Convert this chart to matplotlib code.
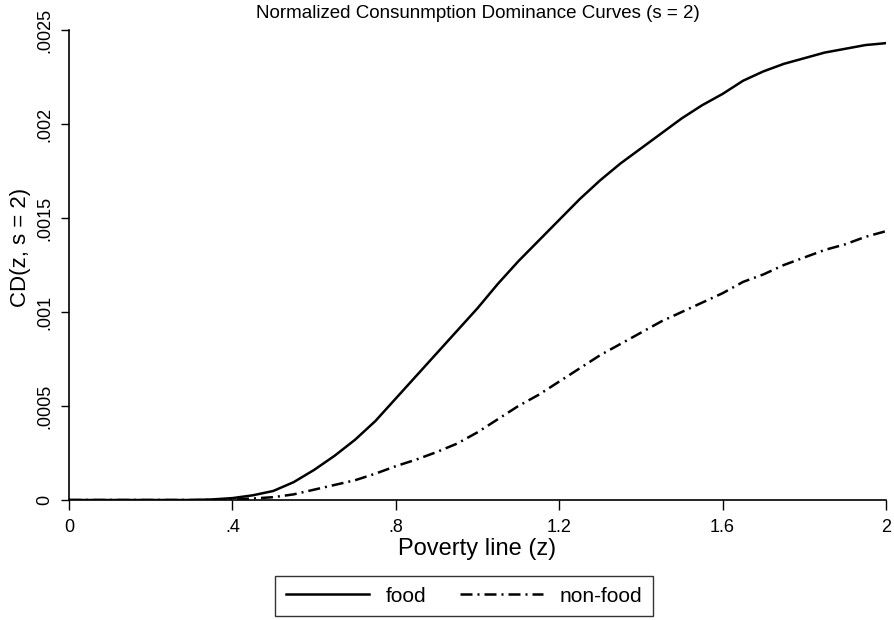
import numpy as np
import matplotlib
matplotlib.use("Agg")
import matplotlib.pyplot as plt
from matplotlib.ticker import FixedLocator

plt.rcParams["font.family"] = ["Liberation Sans", "DejaVu Sans"]

# poverty line grid and dominance curve values
z = [0.0, 0.05, 0.1, 0.15, 0.2, 0.25, 0.3, 0.35, 0.4, 0.45, 0.5, 0.55, 0.6, 0.65,
     0.7, 0.75, 0.8, 0.85, 0.9, 0.95, 1.0, 1.05, 1.1, 1.15, 1.2, 1.25, 1.3, 1.35,
     1.4, 1.45, 1.5, 1.55, 1.6, 1.65, 1.7, 1.75, 1.8, 1.85, 1.9, 1.95, 2.0]
food = [0, 0, 0, 0, 0, 0, 0, 0.000003, 0.00001, 0.000025, 0.000048, 0.000095,
        0.00016, 0.000235, 0.00032, 0.00042, 0.00054, 0.00066, 0.00078, 0.0009,
        0.00102, 0.00115, 0.00127, 0.00138, 0.00149, 0.0016, 0.0017, 0.00179,
        0.00187, 0.00195, 0.00203, 0.0021, 0.00216, 0.00223, 0.00228, 0.00232,
        0.00235, 0.00238, 0.0024, 0.00242, 0.00243]
nonfood = [0, 0, 0, 0, 0, 0, 0, 0, 0.000003, 0.000008, 0.000015, 0.00003,
           0.000055, 0.00008, 0.000105, 0.00014, 0.00018, 0.000215, 0.000255,
           0.0003, 0.00036, 0.00043, 0.0005, 0.00056, 0.00063, 0.0007, 0.00077,
           0.00083, 0.00089, 0.00095, 0.001, 0.00105, 0.0011, 0.00116, 0.0012,
           0.00125, 0.00129, 0.00133, 0.00136, 0.0014, 0.00143]

xticks = [0, 0.4, 0.8, 1.2, 1.6, 2.0]
xticklabels = ["0", ".4", ".8", "1.2", "1.6", "2"]
yticks = [0, 0.0005, 0.001, 0.0015, 0.002, 0.0025]
yticklabels = ["0", ".0005", ".001", ".0015", ".002", ".0025"]

fig = plt.figure(figsize=(8.94, 6.2), dpi=100)
ax = fig.add_axes([69 / 894, 1 - 500 / 620, (886 - 69) / 894, 470 / 620])

l1, = ax.plot(z, food, color="black", lw=1.8, label="food")
l2, = ax.plot(z, nonfood, color="black", lw=1.8, linestyle=(0, (4.8, 2, 0.8, 2)),
              label="non-food")

ax.set_xlim(0, 2)
ax.set_ylim(0, 0.0025)
ax.xaxis.set_major_locator(FixedLocator(xticks))
ax.set_xticklabels(xticklabels)
ax.yaxis.set_major_locator(FixedLocator(yticks))
ax.set_yticklabels(yticklabels, rotation=90, va="center")
ax.tick_params(axis="x", direction="out", length=7, width=1, labelsize=13, pad=7)
ax.tick_params(axis="y", direction="out", length=6, width=1, labelsize=13, pad=5)
ax.spines["top"].set_visible(False)
ax.spines["right"].set_visible(False)
for s in ["left", "bottom"]:
    ax.spines[s].set_linewidth(1.2)

ax.set_xlabel("Poverty line (z)", fontsize=17, labelpad=1)
fig.text(21 / 894, 1 - 247 / 620, "CD(z, s = 2)", rotation=90, fontsize=16,
         ha="center", va="center")
fig.text(478 / 894, 1 - 14 / 620, "Normalized Consunmption Dominance Curves (s = 2)",
         fontsize=13.5, ha="center", va="center")

leg = fig.legend(handles=[l1, l2], loc="center", bbox_to_anchor=(464 / 894, 1 - 596 / 620),
                 ncol=2, fontsize=15, frameon=True, fancybox=False, handlelength=4,
                 columnspacing=1.6, borderpad=0.5)
leg.get_frame().set_edgecolor("black")
leg.get_frame().set_linewidth(1.0)

fig.savefig("out.png", dpi=100)
